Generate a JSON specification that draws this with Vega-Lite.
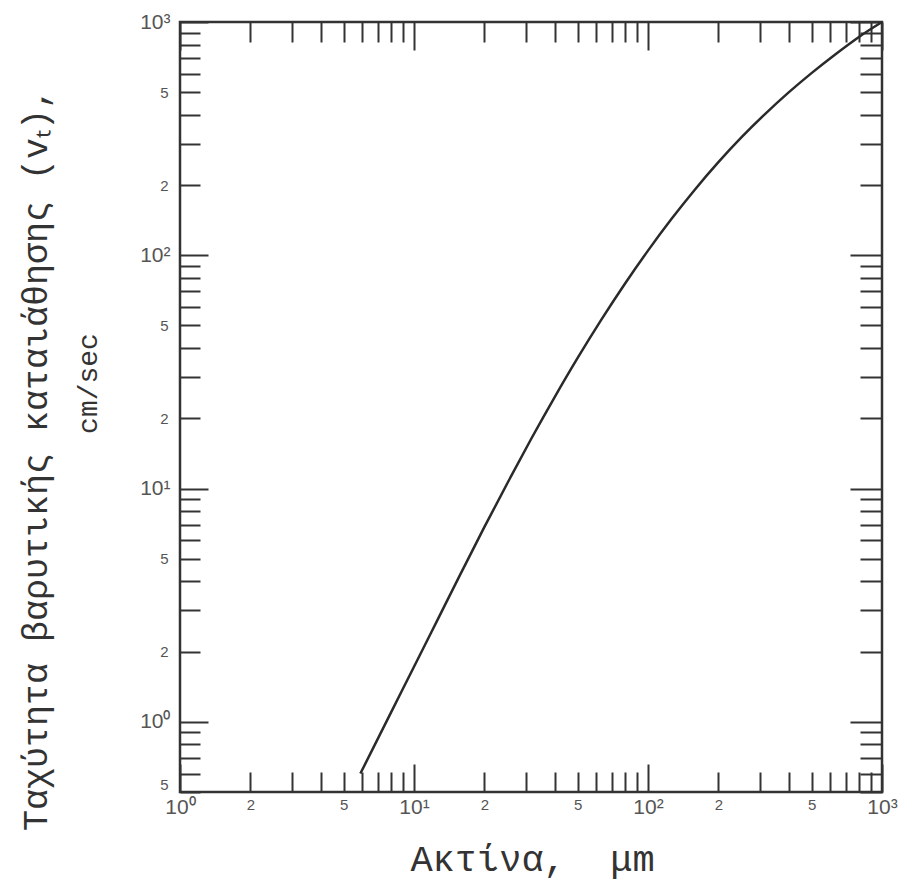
{
  "$schema": "https://vega.github.io/schema/vega-lite/v6.json",
  "width": 702,
  "height": 770,
  "autosize": {"type": "none"},
  "padding": {"left": 180, "top": 22, "right": 24, "bottom": 96},
  "background": "white",
  "config": {
    "view": {"stroke": "#333", "strokeWidth": 2.5},
    "axis": {"grid": false, "domain": false, "tickColor": "#333", "tickWidth": 2, "labelColor": "#555", "labelFont": "Liberation Sans", "labelOverlap": false, "labelFlush": false, "titleFont": "Liberation Mono", "titleFontWeight": "normal", "titleColor": "#333"}
  },
  "data": {"values": [
    {"r": 5.9, "v": 0.6},
    {"r": 7.94, "v": 1.087},
    {"r": 10, "v": 1.722},
    {"r": 12.59, "v": 2.729},
    {"r": 15.85, "v": 4.325},
    {"r": 19.95, "v": 6.81},
    {"r": 25.12, "v": 10.59},
    {"r": 31.62, "v": 16.26},
    {"r": 39.81, "v": 24.55},
    {"r": 50.12, "v": 36.39},
    {"r": 63.1, "v": 52.84},
    {"r": 79.43, "v": 75.16},
    {"r": 100, "v": 104.7},
    {"r": 125.9, "v": 142.9},
    {"r": 158.5, "v": 191.0},
    {"r": 199.5, "v": 250.0},
    {"r": 251.2, "v": 320.6},
    {"r": 316.2, "v": 402.7},
    {"r": 398.1, "v": 497.7},
    {"r": 501.2, "v": 605.3},
    {"r": 631.0, "v": 726.1},
    {"r": 794.3, "v": 861.0},
    {"r": 1000, "v": 1000}
  ]},
  "layer": [
    {
      "mark": {"type": "line", "color": "#2a2a2a", "strokeWidth": 2.5, "interpolate": "monotone"},
      "encoding": {
        "x": {"field": "r", "type": "quantitative",
          "scale": {"type": "log", "domain": [1, 1000], "nice": false, "zero": false},
          "axis": {"orient": "bottom",
            "values": [1,2,3,4,5,6,7,8,9,10,20,30,40,50,60,70,80,90,100,200,300,400,500,600,700,800,900,1000],
            "labelExpr": "datum.value==1?'10⁰':datum.value==10?'10¹':datum.value==100?'10²':datum.value==1000?'10³':(datum.value==2||datum.value==20||datum.value==200)?'2':(datum.value==5||datum.value==50||datum.value==500)?'5':''",
            "tickSize": {"condition": {"test": "datum.value==1||datum.value==10||datum.value==100||datum.value==1000", "value": -28}, "value": -20},
            "labelPadding": {"condition": {"test": "datum.value==1||datum.value==10||datum.value==100||datum.value==1000", "value": 32}, "value": 25},
            "labelFontSize": {"condition": {"test": "datum.value==1||datum.value==10||datum.value==100||datum.value==1000", "value": 21}, "value": 15},
            "title": "Ακτίνα,\u00a0 μm", "titleFontSize": 37, "titleX": 352, "titleY": 67, "titleBaseline": "middle", "titleAlign": "center"}},
        "y": {"field": "v", "type": "quantitative",
          "scale": {"type": "log", "domain": [0.5, 1000], "nice": false, "zero": false},
          "axis": {"orient": "left",
            "values": [0.5,0.6,0.7,0.8,0.9,1,2,3,4,5,6,7,8,9,10,20,30,40,50,60,70,80,90,100,200,300,400,500,600,700,800,900,1000],
            "labelExpr": "datum.value==1?'10⁰':datum.value==10?'10¹':datum.value==100?'10²':datum.value==1000?'10³':(datum.value==0.5||datum.value==5||datum.value==50||datum.value==500)?'5':(datum.value==2||datum.value==20||datum.value==200)?'2':''",
            "tickSize": {"condition": {"test": "datum.value==1||datum.value==10||datum.value==100||datum.value==1000", "value": -28}, "value": -20},
            "labelPadding": {"condition": {"test": "datum.value==1||datum.value==10||datum.value==100||datum.value==1000", "value": 38}, "value": 32},
            "labelOffset": {"condition": {"test": "datum.value==0.5", "value": -8}, "value": 0},
            "labelFontSize": {"condition": {"test": "datum.value==1||datum.value==10||datum.value==100||datum.value==1000", "value": 21}, "value": 15},
            "title": "Ταχύτητα βαρυτικής καταιάθησης (vₜ),", "titleFontSize": 35, "titleX": -145, "titleY": 437, "titleAngle": 270, "titleBaseline": "middle", "titleAlign": "center"}}
      }
    },
    {
      "mark": {"type": "line", "strokeOpacity": 0, "interpolate": "monotone"},
      "encoding": {
        "x": {"field": "r", "type": "quantitative",
          "scale": {"type": "log", "domain": [1, 1000], "nice": false, "zero": false},
          "axis": {"orient": "top", "labels": false,
            "values": [1,2,3,4,5,6,7,8,9,10,20,30,40,50,60,70,80,90,100,200,300,400,500,600,700,800,900,1000],
            "tickSize": {"condition": {"test": "datum.value==1||datum.value==10||datum.value==100||datum.value==1000", "value": -28}, "value": -20},
            "title": null}},
        "y": {"field": "v", "type": "quantitative",
          "scale": {"type": "log", "domain": [0.5, 1000], "nice": false, "zero": false},
          "axis": {"orient": "right", "labels": false,
            "values": [0.5,0.6,0.7,0.8,0.9,1,2,3,4,5,6,7,8,9,10,20,30,40,50,60,70,80,90,100,200,300,400,500,600,700,800,900,1000],
            "tickSize": {"condition": {"test": "datum.value==1||datum.value==10||datum.value==100||datum.value==1000", "value": -32}, "value": -22},
            "title": "cm/sec", "titleFontSize": 28, "titleX": -794, "titleY": 361, "titleAngle": 270, "titleBaseline": "middle", "titleAlign": "center"}}
      }
    }
  ],
  "resolve": {"axis": {"x": "independent", "y": "independent"}}
}
